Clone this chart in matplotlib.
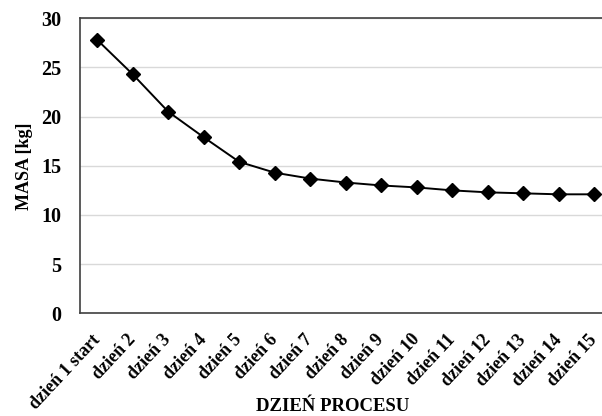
import matplotlib
matplotlib.use("Agg")
import matplotlib.pyplot as plt

# masa w kolejnych dniach procesu
dni = ["dzień 1 start", "dzień 2", "dzień 3", "dzień 4", "dzień 5", "dzień 6",
       "dzień 7", "dzień 8", "dzień 9", "dzień 10", "dzień 11", "dzień 12",
       "dzień 13", "dzień 14", "dzień 15"]
masa = [27.8, 24.3, 20.5, 17.9, 15.4, 14.3, 13.7, 13.3, 13.0, 12.8,
        12.5, 12.3, 12.2, 12.1, 12.1]
y_ticks = [0, 5, 10, 15, 20, 25, 30]

plt.rcParams['font.family'] = ['Liberation Serif', 'DejaVu Serif']

fig = plt.figure(figsize=(6.02, 4.16), dpi=100)
ax = fig.add_axes([79.5 / 602, 1 - 313.3 / 416, 532.5 / 602, 295 / 416])

x = list(range(len(dni)))
ax.plot(x, masa, color='black', lw=1.4, marker='D', ms=7, zorder=3)

ax.set_xlim(-0.5, len(dni) - 0.5)
ax.set_ylim(0, 30)
ax.set_yticks(y_ticks)
ax.set_yticklabels([str(v) for v in y_ticks], fontsize=14.5, fontweight='bold')
ax.set_xticks(x)
ax.set_xticklabels(dni, rotation=47, ha='right', va='center',
                   rotation_mode='anchor', fontsize=13, fontweight='bold')
ax.tick_params(axis='both', length=0)
ax.tick_params(axis='y', pad=13)
ax.tick_params(axis='x', pad=17)

ax.yaxis.grid(True, color='#d9d9d9', lw=1)
ax.set_axisbelow(True)
for side in ['left', 'bottom', 'top']:
    ax.spines[side].set_color('#404040')
    ax.spines[side].set_linewidth(1.2)
ax.spines['right'].set_visible(False)

ax.set_ylabel('MASA [kg]', fontsize=13, fontweight='bold', labelpad=6)
ax.set_xlabel('DZIEŃ PROCESU', fontsize=13.5, fontweight='bold')
ax.xaxis.set_label_coords((333 - 79.5) / 532.5, -(398 - 313.3) / 295)

fig.savefig('out.png', dpi=100)
